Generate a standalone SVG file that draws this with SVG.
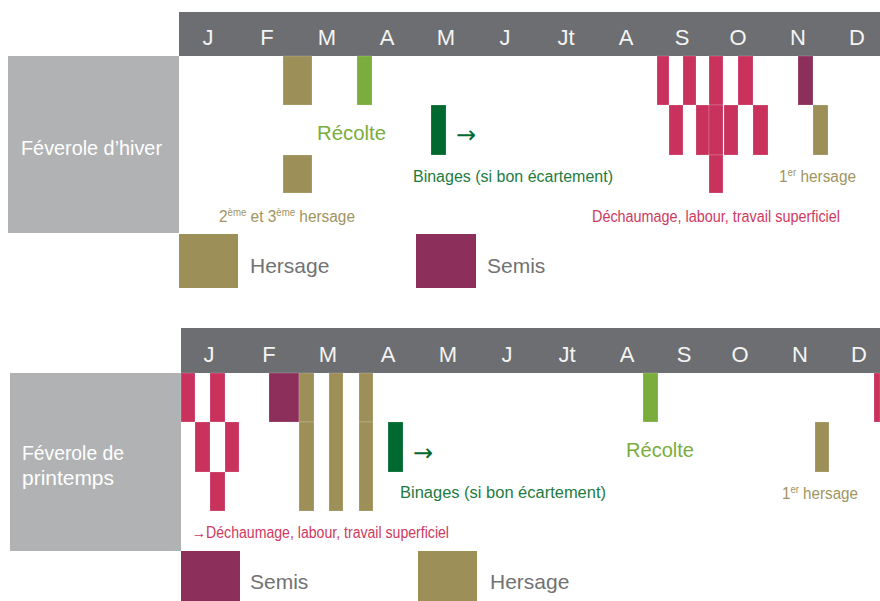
<svg xmlns="http://www.w3.org/2000/svg" width="880" height="601" viewBox="0 0 880 601">
<style>
text{font-family:"Liberation Sans","DejaVu Sans",sans-serif}
.hdr{fill:#6d6e71}
.side{fill:#b1b2b4}
.mo{fill:#f4f4f4;font-size:22px;text-anchor:middle}
.lab{fill:#ffffff;font-size:20px}
.h{fill:#9c8f58}
.s{fill:#8c2f5b}
.p{fill:#c8325c}
.r{fill:#7aad3c}
.b{fill:#00692f}
.bar{stroke:#ffffff;stroke-opacity:0.3;stroke-width:0.6}
.tr{fill:#7aad3c;font-size:21px}
.tb{fill:#1e7b3f;font-size:16px}
.th{fill:#a09460;font-size:16px}
.tp{fill:#cc3a62;font-size:16px}
.ar{fill:#00692f;font-size:24px;font-family:"DejaVu Sans",sans-serif}
.leg{fill:#727272;font-size:21px}
</style>

<!-- Chart 1 -->
<g id="header1">
<rect class="hdr" x="179" y="12" width="701" height="44"/>
<text class="mo" x="208" y="45">J</text>
<text class="mo" x="267" y="45">F</text>
<text class="mo" x="327" y="45">M</text>
<text class="mo" x="387" y="45">A</text>
<text class="mo" x="446" y="45">M</text>
<text class="mo" x="505" y="45">J</text>
<text class="mo" x="566" y="45">Jt</text>
<text class="mo" x="626" y="45">A</text>
<text class="mo" x="682" y="45">S</text>
<text class="mo" x="738" y="45">O</text>
<text class="mo" x="798" y="45">N</text>
<text class="mo" x="857" y="45">D</text>
</g>
<g id="label1">
<rect class="side" x="8" y="56" width="171" height="177"/>
<text class="lab" x="21" y="155" textLength="141" lengthAdjust="spacingAndGlyphs">Féverole d’hiver</text>
</g>
<g id="hersage1">
<rect class="h bar" x="283" y="56" width="29" height="49"/>
<rect class="h bar" x="283" y="155" width="29" height="38"/>
<rect class="h bar" x="813" y="105" width="15" height="50"/>
</g>
<g id="recolte1">
<rect class="r bar" x="357" y="56" width="15" height="49"/>
<text class="tr" x="317" y="140" textLength="69" lengthAdjust="spacingAndGlyphs">Récolte</text>
</g>
<g id="binages1">
<rect class="b bar" x="431" y="105" width="15" height="50"/>
<text class="tb" x="413" y="182" textLength="200" lengthAdjust="spacingAndGlyphs">Binages (si bon écartement)</text>
</g>
<g id="dechaumage1">
<rect class="p bar" x="657" y="56" width="12" height="49"/>
<rect class="p bar" x="683" y="56" width="13" height="49"/>
<rect class="p bar" x="709" y="56" width="14" height="49"/>
<rect class="p bar" x="738" y="56" width="15" height="49"/>
<rect class="p bar" x="669" y="105" width="14" height="50"/>
<rect class="p bar" x="696" y="105" width="13" height="50"/>
<rect class="p bar" x="709" y="105" width="14" height="50"/>
<rect class="p bar" x="724" y="105" width="14" height="50"/>
<rect class="p bar" x="753" y="105" width="15" height="50"/>
<rect class="p bar" x="709" y="155" width="14" height="38"/>
<text class="tp" x="592" y="222" textLength="248" lengthAdjust="spacingAndGlyphs">Déchaumage, labour, travail superficiel</text>
</g>
<g id="semis1">
<rect class="s bar" x="798" y="56" width="15" height="49"/>
</g>
<g id="texts1">
<text class="th" x="219" y="222" textLength="136" lengthAdjust="spacingAndGlyphs">2<tspan font-size="10" dy="-6">ème</tspan><tspan dy="6"> et 3</tspan><tspan font-size="10" dy="-6">ème</tspan><tspan dy="6"> hersage</tspan></text>
<text class="th" x="779" y="182" textLength="77" lengthAdjust="spacingAndGlyphs">1<tspan font-size="10" dy="-6">er</tspan><tspan dy="6"> hersage</tspan></text>
</g>
<g id="legend1">
<rect class="h" x="179" y="234" width="59" height="54"/>
<text class="leg" x="250" y="273">Hersage</text>
<rect class="s" x="416" y="234" width="60" height="54"/>
<text class="leg" x="487" y="273">Semis</text>
</g>

<!-- Chart 2 -->
<g id="header2">
<rect class="hdr" x="181" y="328" width="699" height="45"/>
<text class="mo" x="209" y="362">J</text>
<text class="mo" x="269" y="362">F</text>
<text class="mo" x="328" y="362">M</text>
<text class="mo" x="388" y="362">A</text>
<text class="mo" x="448" y="362">M</text>
<text class="mo" x="507" y="362">J</text>
<text class="mo" x="567" y="362">Jt</text>
<text class="mo" x="627" y="362">A</text>
<text class="mo" x="684" y="362">S</text>
<text class="mo" x="740" y="362">O</text>
<text class="mo" x="800" y="362">N</text>
<text class="mo" x="859" y="362">D</text>
</g>
<g id="label2">
<rect class="side" x="10" y="373" width="171" height="178"/>
<text class="lab" x="22" y="460" textLength="102" lengthAdjust="spacingAndGlyphs">Féverole de</text>
<text class="lab" x="22" y="485" textLength="92" lengthAdjust="spacingAndGlyphs">printemps</text>
</g>
<g id="dechaumage2">
<rect class="p bar" x="181" y="373" width="14" height="49"/>
<rect class="p bar" x="210" y="373" width="15" height="49"/>
<rect class="p bar" x="195" y="422" width="15" height="50"/>
<rect class="p bar" x="225" y="422" width="14" height="50"/>
<rect class="p bar" x="210" y="472" width="15" height="39"/>
<rect class="p bar" x="874" y="373" width="6" height="49"/>
<text class="tp" x="192" y="538" textLength="257" lengthAdjust="spacingAndGlyphs">→Déchaumage, labour, travail superficiel</text>
</g>
<g id="semis2">
<rect class="s bar" x="269" y="373" width="30" height="49"/>
</g>
<g id="hersage2">
<rect class="h bar" x="299" y="373" width="15" height="49"/>
<rect class="h bar" x="299" y="422" width="15" height="89"/>
<rect class="h bar" x="329" y="373" width="14" height="138"/>
<rect class="h bar" x="359" y="373" width="14" height="49"/>
<rect class="h bar" x="359" y="422" width="14" height="89"/>
<rect class="h bar" x="815" y="422" width="14" height="50"/>
<text class="th" x="782" y="499" textLength="76" lengthAdjust="spacingAndGlyphs">1<tspan font-size="10" dy="-6">er</tspan><tspan dy="6"> hersage</tspan></text>
</g>
<g id="binages2">
<rect class="b bar" x="388" y="422" width="15" height="50"/>
<text class="tb" x="400" y="498" textLength="206" lengthAdjust="spacingAndGlyphs">Binages (si bon écartement)</text>
</g>
<g id="recolte2">
<rect class="r bar" x="643" y="373" width="15" height="49"/>
<text class="tr" x="626" y="457" textLength="68" lengthAdjust="spacingAndGlyphs">Récolte</text>
</g>
<g id="legend2">
<rect class="s" x="181" y="551" width="59" height="50"/>
<text class="leg" x="250" y="589">Semis</text>
<rect class="h" x="418" y="551" width="59" height="50"/>
<text class="leg" x="490" y="589">Hersage</text>
</g>

<g id="connectors">
<text class="ar" x="456" y="143">→</text>
<text class="ar" x="413" y="461">→</text>
</g>
</svg>
